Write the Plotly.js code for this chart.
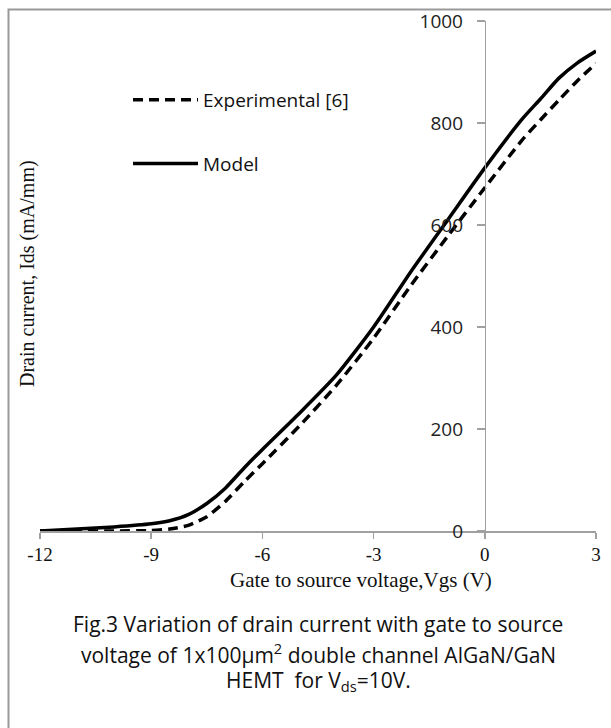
<!DOCTYPE html>
<html><head><meta charset="utf-8">
<script src="https://cdn.plot.ly/plotly-3.0.1.min.js"></script>
<style>html,body{margin:0;padding:0;background:#fff;}#chart{width:611px;height:728px;}</style>
</head><body><div id="chart"></div>
<script>
// Gate-to-source voltage (V)
const vgs = [-12, -11, -10, -9, -8.5, -8, -7.5, -7, -6.5, -6, -5, -4, -3, -2, -1, 0, 1, 1.5, 2, 2.5, 3];
// Experimental [6] drain current (mA/mm)
const idsExperimental = [0, 0, 0, 1, 4, 11, 28, 58, 96, 132, 206, 286, 378, 481, 578, 673, 766, 806, 845, 883, 917];
// Model drain current (mA/mm)
const idsModel = [0, 4, 8, 14, 20, 32, 54, 84, 123, 160, 231, 306, 400, 508, 610, 712, 807, 847, 888, 918, 941];
const xTicks = [-12, -9, -6, -3, 0, 3];
const yTicks = [0, 200, 400, 600, 800, 1000];
const captionLines = [
  "Fig.3 Variation of drain current with gate to source",
  "voltage of 1x100µm<sup>2</sup> double channel AlGaN/GaN",
  "HEMT  for V<sub>ds</sub>=10V."
];

const serif = "Liberation Serif, Times New Roman, serif";
const sans = "Open Sans, Lato, sans-serif";

const traces = [
  {x: vgs, y: idsExperimental, name: "Experimental [6]", mode: "lines", legendgroup: "a",
   line: {color: "#000", width: 3.5, dash: "10px,6px", shape: "spline", smoothing: 0.6}},
  {x: vgs, y: idsModel, name: "Model", mode: "lines", legendgroup: "b",
   line: {color: "#000", width: 3.5, shape: "spline", smoothing: 0.6}}
];

const pxX = p => (p - 40) / 556, pxY = p => (531 - p) / 510;

const captionY = [624, 653, 681];
const annotations = [
  {text: "Gate to source voltage,Vgs (V)", xref: "paper", yref: "paper", x: pxX(361), y: pxY(580),
   showarrow: false, xanchor: "center", yanchor: "middle", font: {family: serif, size: 21, color: "#111"}},
  {text: "Drain current, Ids (mA/mm)", xref: "paper", yref: "paper", x: pxX(27), y: pxY(274),
   textangle: -90, showarrow: false, xanchor: "center", yanchor: "middle",
   font: {family: serif, size: 20, color: "#111"}}
];
captionLines.forEach((t, i) => annotations.push({
  text: t, xref: "paper", yref: "paper", x: pxX(318), y: pxY(captionY[i]), showarrow: false,
  xanchor: "center", yanchor: "middle", font: {family: sans, size: 21, color: "#111"}
}));

const layout = {
  width: 611, height: 728,
  margin: {l: 40, r: 15, t: 21, b: 197},
  paper_bgcolor: "#fff", plot_bgcolor: "#fff",
  showlegend: true,
  legend: {x: pxX(128), y: pxY(81), xanchor: "left", yanchor: "top", bgcolor: "rgba(0,0,0,0)",
           font: {family: sans, size: 19, color: "#111"}, itemwidth: 65, traceorder: "grouped",
           tracegroupgap: 36},
  xaxis: {range: [-12, 3], tickvals: xTicks, ticktext: xTicks.map(String), showgrid: false, zeroline: false,
          showline: true, linecolor: "#a0a0a0", linewidth: 1.5, ticks: "outside", ticklen: 6,
          tickcolor: "#a0a0a0", tickwidth: 1.5, tickfont: {family: serif, size: 19, color: "#111"},
          fixedrange: true},
  yaxis: {range: [0, 1000], tickvals: yTicks, ticktext: yTicks.map(String), showgrid: false, zeroline: false,
          anchor: "free", position: 0.8, showline: true, linecolor: "#a0a0a0", linewidth: 1.5,
          ticks: "outside", ticklen: 8, tickcolor: "#a0a0a0", tickwidth: 1.5,
          ticklabelstandoff: 10,
          tickfont: {family: sans, size: 19, color: "#222"}, fixedrange: true},
  annotations: annotations,
  shapes: [
    {type: "path", xref: "paper", yref: "paper",
     path: `M${pxX(8.5)},${pxY(740)} L${pxX(8.5)},${pxY(9.5)} L${pxX(620)},${pxY(9.5)}`,
     line: {color: "#999", width: 2}}
  ]
};

Plotly.newPlot("chart", traces, layout, {displayModeBar: false, staticPlot: true});
</script></body></html>
